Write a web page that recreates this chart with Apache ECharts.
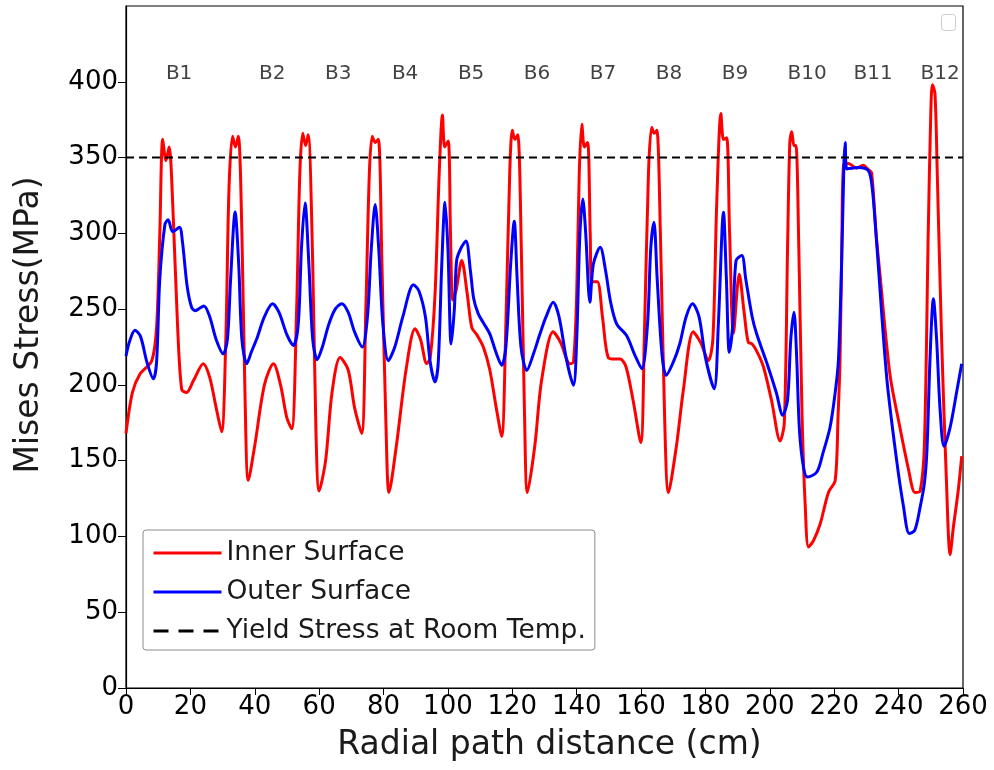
<!DOCTYPE html>
<html>
<head>
<meta charset="utf-8">
<script src="https://cdn.jsdelivr.net/npm/echarts@6/dist/echarts.min.js"></script>
<style>html,body{margin:0;padding:0;background:#fff}#c{width:994px;height:770px}</style>
</head>
<body>
<div id="c"></div>
<script>
// Inner surface: [distance cm, stress MPa]
var innerSurface = [
[0,168],[2,195],[4.3,207],[8,216],[9.5,238],[10.5,300],[11.4,362],[12.4,348],[13.4,357],[14.5,320],[16,240],[17.3,197],[18.8,195],[21,203],[24,214],[26,205],[28,185],[29.7,169],
[31,230],[32,330],[33.1,364],[34,357],[34.9,364],[36,300],[37,190],[38,137],[40,160],[43,200],[45.8,214],[48,200],[50,178],[51.5,171],
[53,250],[54,340],[54.9,366],[55.8,358],[56.6,365],[58,280],[59,170],[60,130],[62,150],[64,195],[66.5,218],[69,210],[71,185],[73.2,168],
[74.5,250],[75.6,340],[76.5,364],[77.4,360],[78.4,362],[79.5,280],[80.8,170],[81.7,129],[84,160],[87,210],[89.8,237],[91.5,230],[93.4,214],[94.5,218],
[96,260],[97.3,340],[98.3,378],[99,357],[100.1,361],[100.8,300],[101.5,256],[102.5,262],[104.3,282],[106,260],[107.4,238],[109,233],[111,225],[113,210],[115,185],[116.7,166],
[118,240],[119.2,340],[120,368],[120.8,362],[121.7,365],[122.8,290],[123.8,180],[124.7,129],[127,160],[129.1,203],[132.7,235],[135,228],[137.9,214],[139,215],
[140,260],[140.8,340],[141.6,372],[142.4,357],[143.4,360],[144.2,300],[144.7,268],[146.4,268],[148,245],[149.8,218],[152,217],[153.5,217],[155.3,212],[157.5,190],[159.9,162],
[161,230],[162.3,340],[163.3,370],[164.1,366],[164.9,368],[166,300],[167.3,180],[168.5,129],[171,160],[173.1,196],[176.2,235],[178.5,228],[180.9,216],
[182.3,230],[183.5,320],[184.8,379],[185.6,362],[186.6,363],[187.5,300],[188.7,234],[190.5,273],[192,248],[193.3,228],[194.5,227],[196,222],[198,212],[200.5,190],[203.2,163],
[204.5,175],[205.5,290],[206.2,360],[206.8,367],[207.5,358],[208.1,358],[209,290],[210,180],[211,120],[212,93],[213.5,97],[215.6,108],[218.2,129],[220.3,137],
[221.2,180],[221.8,216],[222.4,300],[222.9,345],[224.4,346],[227,343],[229,345],[230.6,342],[231.6,340],[233,300],[234.2,273],[237.3,207],[240.4,172],[243,145],[245.1,129],[246.7,130],
[248,160],[249.2,300],[250,380],[250.5,398],[251.3,392],[252,340],[253.4,227],[254.8,140],[256,88],[257,106],[258.5,130],[259.6,153]
];
// Outer surface: [distance cm, stress MPa]
var outerSurface = [
[0,219],[1,228],[2.8,236],[4.5,232],[6.5,215],[8.5,204],[9.5,215],[10.5,270],[12.1,306],[13.1,309],[14.5,301],[16.6,304],[17.5,295],[19,265],[20.4,251],[21.5,249],[22.5,250],[24.2,252],[26,245],[28,230],[30.2,220.5],
[31.5,230],[32.5,270],[33.9,314],[35,280],[36,230],[37.5,214],[39,222],[40.8,231.5],[43,245],[45.5,253.5],[47.5,248],[50,233],[52,226],
[53.5,240],[54.5,290],[55.6,320],[56.8,280],[58,230],[59.4,216.6],[61,225],[63,240],[65,250],[67,253.5],[69,248],[71,235],[73.4,225],
[75,245],[76.2,290],[77.4,319],[78.5,290],[79.8,240],[81.5,216],[83.5,225],[86,245],[89.3,266],[91,262],[93,245],[94.5,215],[96,202],
[97,215],[98.1,280],[99.1,320.5],[100,290],[101,227],[102,250],[102.7,282],[104,290],[105.6,295],[107,275],[108,257],[109.4,247],[111,241],[113,233.7],[115,221],[116.7,213],
[118,225],[119.5,280],[120.6,308],[121.5,270],[122.7,225],[124.5,209.5],[126.5,220],[128.6,233.7],[130.5,245],[132.7,254.5],[134.5,245],[136.9,216],[139,199.7],
[140,230],[141,300],[141.9,322.6],[142.8,300],[144.1,254.5],[145.2,279.9],[147.3,290.8],[149,275],[150.5,255],[152.4,240.3],[155.5,232.6],[158,220],[160.2,210.7],
[162,240],[163,290],[164,307.3],[165,270],[166.5,220],[167.8,206.3],[170,215],[172,227],[174,245],[176,253.5],[178,245],[180,218],[182.7,197.5],
[184,240],[185.6,313.9],[186.5,270],[187.4,221.6],[188.5,240],[189.5,282],[191.3,285.3],[192.5,270],[194.5,245],[195.9,233.7],[199.5,211.7],[202,195],[204,180],
[205.5,190],[206.5,230],[207.5,248],[208.3,220],[209.2,170],[210.5,145],[211.7,139.2],[214.6,142.5],[216.5,155],[218.7,172],[220.3,195],[221.3,216],
[222.3,280],[223,345],[223.4,360],[223.9,342.5],[227.5,343.5],[230.6,341.4],[231.8,330],[233.2,293],[236.3,205],[239.4,150],[241.5,120],[243.3,102],[245,104],[246.7,119.5],
[248,135],[248.8,157],[249.8,220],[250.8,256.8],[251.8,230],[252.9,183],[254.1,159.5],[256,172],[258,195],[259.6,214]
];
var yieldStress = [[0,350],[260,350]];
var bLabels = ['B1','B2','B3','B4','B5','B6','B7','B8','B9','B10','B11','B12'];
var bLabelX = [16.5,45.4,65.9,86.7,107.2,127.7,148.2,168.7,189.2,211.6,232.1,252.9];
var bLabelY = 405;
var xTicks = [0,20,40,60,80,100,120,140,160,180,200,220,240,260];
var yTicks = [0,50,100,150,200,250,300,350,400];

var FONT = 'DejaVu Sans';
var chart = echarts.init(document.getElementById('c'), null, {renderer:'canvas'});
var labelPoints = bLabels.map(function(n,i){ return {name:n, value:[bLabelX[i], bLabelY]}; });

chart.setOption({
  animation: false,
  backgroundColor: '#fff',
  grid: {left:126, right:31, top:6, bottom:82, show:true, borderColor:'#000', borderWidth:1.2, backgroundColor:'transparent'},
  legend: {
    data: [
      {name:'Inner Surface', lineStyle:{width:3}},
      {name:'Outer Surface', lineStyle:{width:3}},
      {name:'Yield Stress at Room Temp.', lineStyle:{width:3, type:[15,10]}}
    ],
    orient:'vertical', left:143, top:530,
    padding:[9,9,5,9], itemGap:11, itemWidth:68, itemHeight:14,
    itemStyle:{opacity:0},
    borderColor:'#8c8c8c', borderWidth:1, borderRadius:3, backgroundColor:'#fff',
    textStyle:{fontFamily:FONT, fontSize:26.5, color:'#1a1a1a', lineHeight:28}
  },
  xAxis: {
    type:'value', min:0, max:260, interval:20,
    name:'Radial path distance (cm)', nameLocation:'middle', nameGap:41,
    nameTextStyle:{fontFamily:FONT, fontSize:33, color:'#1a1a1a', padding:[0,0,0,10]},
    axisLine:{show:true, onZero:false, lineStyle:{color:'#000', width:1.2}},
    axisTick:{show:true, length:7, lineStyle:{color:'#000'}, customValues:xTicks},
    axisLabel:{fontFamily:FONT, fontSize:26, color:'#000', margin:6, customValues:xTicks},
    splitLine:{show:false}
  },
  yAxis: {
    type:'value', min:0, max:450, interval:50,
    name:'Mises Stress(MPa)', nameLocation:'middle', nameGap:80,
    nameTextStyle:{fontFamily:FONT, fontSize:33, color:'#1a1a1a', padding:[0,0,0,44]},
    axisLine:{show:true, onZero:false, lineStyle:{color:'#000', width:1.2}},
    axisTick:{show:true, length:8, lineStyle:{color:'#000'}, customValues:yTicks},
    axisLabel:{fontFamily:FONT, fontSize:26, color:'#000', margin:8, customValues:yTicks},
    splitLine:{show:false}
  },
  graphic: [{type:'rect', left:941, top:14, shape:{width:14, height:16, r:3}, style:{fill:'#fff', stroke:'#ccc', lineWidth:1}}],
  series: [
    {name:'Inner Surface', type:'line', data:innerSurface, showSymbol:false, symbol:'none', smooth:0.3,
     lineStyle:{color:'#ff0000', width:3}, itemStyle:{color:'#ff0000'}, z:3},
    {name:'Outer Surface', type:'line', data:outerSurface, showSymbol:false, symbol:'none', smooth:0.3,
     lineStyle:{color:'#0000ff', width:3}, itemStyle:{color:'#0000ff'}, z:4},
    {name:'Yield Stress at Room Temp.', type:'line', data:yieldStress, showSymbol:false, symbol:'none',
     lineStyle:{color:'#000', width:2, type:[8,5]}, itemStyle:{color:'#000'}, z:5},
    {name:'labels', type:'scatter', data:labelPoints, symbolSize:0, silent:true,
     label:{show:true, position:'inside', formatter:'{b}', fontFamily:FONT, fontSize:20, color:'#111'}}
  ]
});
</script>
</body>
</html>
